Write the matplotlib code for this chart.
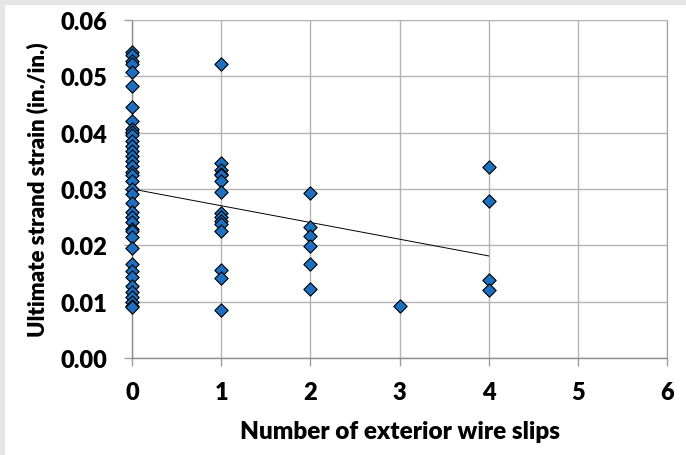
import matplotlib
matplotlib.use("Agg")
import matplotlib.pyplot as plt
import numpy as np
from matplotlib.patches import Rectangle

plt.rcParams['font.family'] = ['Lato', 'DejaVu Sans']

# Data
slips_0 = [0.0543, 0.0537, 0.0528, 0.0522, 0.0508, 0.0483, 0.0445, 0.0421,
           0.0407, 0.0401, 0.0395, 0.0386, 0.0377, 0.0368, 0.0359, 0.0350,
           0.0341, 0.0330, 0.0324, 0.0315, 0.0300, 0.0291, 0.0276, 0.0259,
           0.0250, 0.0241, 0.0229, 0.0225, 0.0215, 0.0195, 0.0167, 0.0155,
           0.0143, 0.0128, 0.0117, 0.0108, 0.0099, 0.0093, 0.0090]
slips_1 = [0.0522, 0.0347, 0.0334, 0.0327, 0.0324, 0.0314, 0.0295, 0.0257,
           0.0250, 0.0243, 0.0238, 0.0226, 0.0157, 0.0142, 0.0086]
slips_2 = [0.0293, 0.0233, 0.0217, 0.0199, 0.0167, 0.0122]
slips_3 = [0.0092]
slips_4 = [0.0339, 0.0278, 0.0138, 0.0121]
groups = {0: slips_0, 1: slips_1, 2: slips_2, 3: slips_3, 4: slips_4}

trend_intercept = 0.0300
trend_slope = -0.00297
trend_x = [0, 4]

x_ticks = [0, 1, 2, 3, 4, 5, 6]
y_ticks = [0.00, 0.01, 0.02, 0.03, 0.04, 0.05, 0.06]

fig = plt.figure(figsize=(6.86, 4.56), dpi=100)
fig.patch.set_facecolor('#e6e4e4')
fig.patches.append(Rectangle((5/686, 0), 1, 1 - 6/456, transform=fig.transFigure,
                             facecolor='white', edgecolor='none', zorder=-10))

ax = fig.add_axes([132/686, 1 - 359/456, (667-132)/686, (359-21)/456])
ax.set_zorder(5)
ax.set_facecolor('white')

xs = []
ys = []
for k, vals in groups.items():
    xs += [k] * len(vals)
    ys += vals
ax.scatter(xs, ys, marker='D', s=46, facecolor='#1f6fc0', edgecolor='black',
           linewidth=0.8, zorder=3, clip_on=False)

tx = np.array(trend_x, dtype=float)
ax.plot(tx, trend_intercept + trend_slope * tx, color='black', linewidth=0.7, zorder=2)

ax.set_xlim(0, 6)
ax.set_ylim(0, 0.06)
ax.set_xticks(x_ticks)
ax.set_yticks(y_ticks)
ax.set_xticklabels([str(v) for v in x_ticks])
ax.set_yticklabels([f"{v:.2f}" for v in y_ticks])

ax.grid(True, color='#b4b4b4', linewidth=1.0, zorder=0)
ax.set_axisbelow(True)
for side in ['left', 'bottom']:
    ax.spines[side].set_color('#8c8c8c')
    ax.spines[side].set_linewidth(1.0)
ax.spines['right'].set_color('#a0a0a0')
ax.spines['top'].set_color('#b4b4b4')

ax.tick_params(axis='both', length=5.5, width=1.0, color='#a0a0a0', labelsize=17)
ax.tick_params(axis='x', pad=11)
ax.tick_params(axis='y', pad=12)
for lab in ax.get_xticklabels() + ax.get_yticklabels():
    lab.set_fontweight('heavy')

ax.set_xlabel('Number of exterior wire slips', fontsize=17.5, fontweight='heavy', labelpad=12)
ax.set_ylabel('Ultimate strand strain (in./in.)', fontsize=16, fontweight='heavy', labelpad=9)

fig.savefig('out.png', dpi=100, facecolor=fig.get_facecolor())
